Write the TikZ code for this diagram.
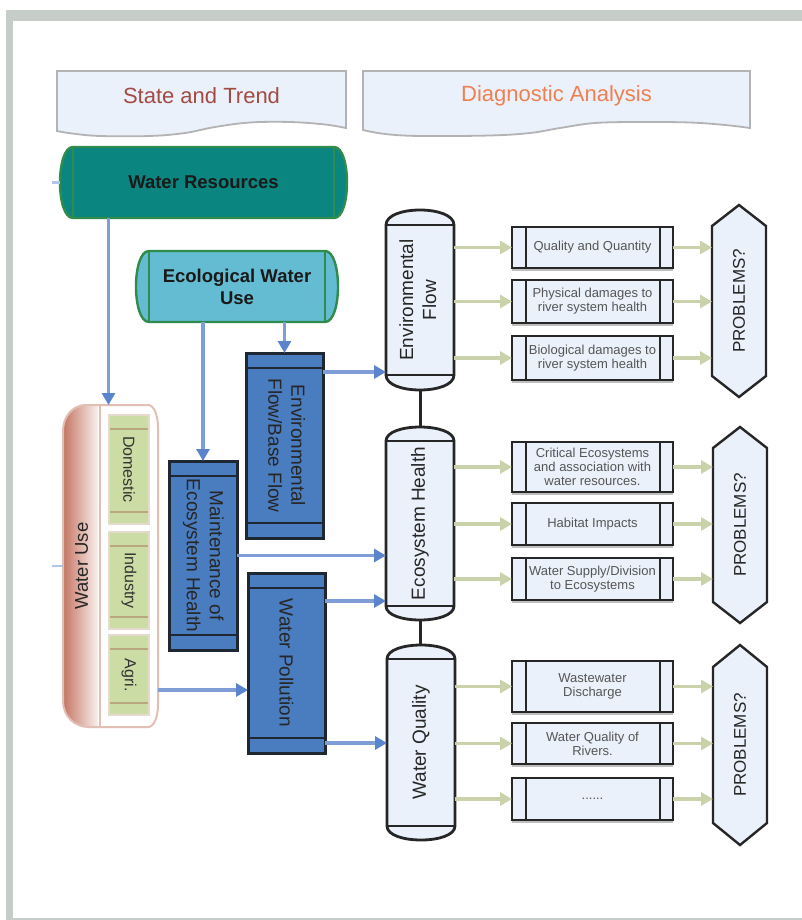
\documentclass[tikz,border=0pt]{standalone}
\usepackage{fontspec}
\setmainfont{Liberation Sans}
\usepackage{graphicx}
\usetikzlibrary{arrows.meta,calc,shadows}
\pgfdeclarelayer{bg}
\pgfsetlayers{bg,main}
\definecolor{frameg}{HTML}{C6CDC8}
\definecolor{panel}{HTML}{EAF1FA}
\definecolor{hdrline}{HTML}{B3B3B5}
\definecolor{hdrA}{HTML}{A34B42}
\definecolor{hdrB}{HTML}{EE8052}
\definecolor{wrteal}{HTML}{0A857F}
\definecolor{cangreen}{HTML}{2F8C4C}
\definecolor{ecoblue}{HTML}{64BCD3}
\definecolor{boxblue}{HTML}{4A7CC0}
\definecolor{boxline}{HTML}{1F2733}
\definecolor{arrblue}{HTML}{7F9ED8}
\definecolor{headblue}{HTML}{5A84CC}
\definecolor{arrgreen}{HTML}{C9D2AA}
\definecolor{darkline}{HTML}{262626}
\definecolor{midtext}{HTML}{555555}
\definecolor{wuline}{HTML}{E2BFB5}
\definecolor{wudark}{HTML}{C47563}
\definecolor{wulight}{HTML}{FAF0EE}
\definecolor{subgreen}{HTML}{CBDCA4}
\definecolor{subline}{HTML}{E6DACE}
\definecolor{subtan}{HTML}{B9A87F}
% horizontal can: node, bulge
\newcommand\hcan[3][]{%
 \path[#1] ($(#2.north west)+(#3,0)$) -- ($(#2.north east)+(-#3,0)$)
  .. controls ($(#2.north east)+(#3/3,0)$) and ($(#2.south east)+(#3/3,0)$) .. ($(#2.south east)+(-#3,0)$)
  -- ($(#2.south west)+(#3,0)$)
  .. controls ($(#2.south west)+(-#3/3,0)$) and ($(#2.north west)+(-#3/3,0)$) .. cycle;
 \path[#1,fill=none] ($(#2.north west)+(#3,0)$) -- ($(#2.south west)+(#3,0)$)
  ($(#2.north east)+(-#3,0)$) -- ($(#2.south east)+(-#3,0)$);}
% vertical can: node, bulge
\newcommand\vcan[3][]{%
 \path[#1] ($(#2.north west)+(0,#3)$) .. controls ($(#2.north west)+(0,-#3/3)$) and ($(#2.north east)+(0,-#3/3)$) .. ($(#2.north east)+(0,#3)$)
  -- ($(#2.south east)+(0,-#3)$) .. controls ($(#2.south east)+(0,#3/3)$) and ($(#2.south west)+(0,#3/3)$) .. ($(#2.south west)+(0,-#3)$) -- cycle;
 \path[#1,fill=none] ($(#2.north west)+(0,#3)$) -- ($(#2.north east)+(0,#3)$)
  ($(#2.south west)+(0,-#3)$) -- ($(#2.south east)+(0,-#3)$);}
% elongated hexagon: node, corner depth
\newcommand\hexa[3][]{%
 \path[#1] (#2.north) -- ($(#2.north east)+(0,#3)$) -- ($(#2.south east)+(0,-#3)$) -- (#2.south)
  -- ($(#2.south west)+(0,-#3)$) -- ($(#2.north west)+(0,#3)$) -- cycle;}
% vertical bars in a box
\newcommand\vbars[1]{%
 \draw[darkline,line width=2.4pt] ($(#1.north west)+(14,0)$) -- ($(#1.south west)+(14,0)$)
  ($(#1.north east)+(-13,0)$) -- ($(#1.south east)+(-13,0)$);}
% horizontal bars in a blue box
\newcommand\hbars[1]{%
 \draw[boxline,line width=2.4pt] ($(#1.north west)+(0,15)$) -- ($(#1.north east)+(0,15)$)
  ($(#1.south west)+(0,-15)$) -- ($(#1.south east)+(0,-15)$);}
% tan lines in a green sub-box
\newcommand\tbars[1]{%
 \draw[subtan,line width=1.8pt] ($(#1.north west)+(1,14)$) -- ($(#1.north east)+(-1,14)$)
  ($(#1.south west)+(1,-12)$) -- ($(#1.south east)+(-1,-12)$);}
\begin{document}
\begin{tikzpicture}[x=1pt,y=-1pt,
  every node/.style={inner sep=0pt,outer sep=0pt},
  hdrtxt/.style={font=\fontsize{22}{26}\selectfont},
  cantxt/.style={font=\fontsize{18.5}{22}\selectfont\bfseries,text=black!90,align=center},
  bluebox/.style={draw=boxline,line width=3pt,fill=boxblue,text=black!85,
     font=\fontsize{19}{23}\selectfont,
     drop shadow={shadow xshift=-1.5pt,shadow yshift=-2pt,fill=black!40,opacity=1}},
  vtxt/.style={font=\fontsize{19}{23}\selectfont,text=black!85},
  midbox/.style={draw=darkline,line width=2.8pt,fill=panel,minimum width=161pt,
     text=midtext,font=\fontsize{13}{14}\selectfont,align=center,
     drop shadow={shadow xshift=0pt,shadow yshift=-3pt,fill=black!25,opacity=1}},
  subbox/.style={draw=subline,line width=1.6pt,fill=subgreen,minimum width=40pt,
     font=\fontsize{16}{19}\selectfont,text=black!80},
  canfill/.style={draw=darkline,line width=2.8pt,fill=panel},
  barrow/.style={draw=arrblue,line width=3.4pt,-{Triangle[length=12pt,width=13pt,color=headblue]}},
  garrow/.style={draw=arrgreen,line width=3.4pt,-{Triangle[length=12pt,width=13pt]}},
  link/.style={draw=darkline,line width=3pt}]
\useasboundingbox (0,0) rectangle (802,920);

% ---------- nodes ----------
\node[hdrtxt,text=hdrA] (hA) at (201.5,96) {State and Trend};
\node[hdrtxt,text=hdrB] (hB) at (556.5,96) {Diagnostic Analysis};

\node[cantxt,minimum width=287pt,minimum height=71pt] (wr) at (203.5,182.5) {Water Resources};
\node[cantxt,minimum width=202pt,minimum height=71pt] (ewu) at (237,286.5) {Ecological Water\\Use};

\node[minimum width=95pt,minimum height=322pt] (wu) at (110.5,566) {};
\node[font=\fontsize{18.5}{22}\selectfont,text=black!85] (wutxt) at (81.5,566) {\rotatebox{90}{Water Use}};
\node[subbox,minimum height=109pt] (dom) at (129,469.5) {\rotatebox{-90}{Domestic}};
\node[subbox,minimum height=97pt] (ind) at (129,580.5) {\rotatebox{-90}{Industry}};
\node[subbox,minimum height=80pt] (agr) at (129,675) {\rotatebox{-90}{Agri.}};

\node[bluebox,minimum width=77pt,minimum height=185pt] (efb) at (284.5,445.5)
  {\rotatebox{-90}{\begin{tabular}{@{}c@{}}Environmental\\Flow/Base Flow\end{tabular}}};
\node[bluebox,minimum width=68pt,minimum height=189pt] (mt) at (203,555.5)
  {\rotatebox{-90}{\begin{tabular}{@{}c@{}}Maintenance of\\Ecosystem Health\end{tabular}}};
\node[bluebox,minimum width=77pt,minimum height=180pt] (wp) at (286.5,663)
  {\rotatebox{-90}{Water Pollution}};

\node[vtxt,minimum width=68pt,minimum height=180pt] (ef) at (420,300)
  {\rotatebox{90}{\begin{tabular}{@{}c@{}}Environmental\\Flow\end{tabular}}};
\node[vtxt,minimum width=68pt,minimum height=193pt] (eh) at (420,523.5)
  {\rotatebox{90}{Ecosystem Health}};
\node[vtxt,minimum width=68pt,minimum height=195pt] (wq) at (421,742.5)
  {\rotatebox{90}{Water Quality}};

\node[midbox,minimum height=41pt] (q1) at (592.5,247.5) {Quality and Quantity};
\node[midbox,minimum height=43pt] (q2) at (592.5,301.5) {Physical damages to\\river system health};
\node[midbox,minimum height=44pt] (q3) at (592.5,358) {Biological damages to\\river system health};
\node[midbox,minimum height=50pt] (c1) at (592.5,467) {Critical Ecosystems\\and association with\\water resources.};
\node[midbox,minimum height=42pt] (c2) at (592.5,524) {Habitat Impacts};
\node[midbox,minimum height=42pt] (c3) at (592.5,579) {Water Supply/Division\\to Ecosystems};
\node[midbox,minimum height=51pt] (w1) at (592.5,686.5) {Wastewater\\Discharge};
\node[midbox,minimum height=41pt] (w2) at (592.5,743.5) {Water Quality of\\Rivers.};
\node[midbox,minimum height=42pt] (w3) at (592.5,799) {......};

\node[font=\fontsize{17}{20}\selectfont,text=black!85,minimum width=54pt,minimum height=192pt] (p1) at (739,301) {\rotatebox{90}{PROBLEMS?}};
\node[font=\fontsize{17}{20}\selectfont,text=black!85,minimum width=54pt,minimum height=196pt] (p2) at (740,525) {\rotatebox{90}{PROBLEMS?}};
\node[font=\fontsize{17}{20}\selectfont,text=black!85,minimum width=54pt,minimum height=200pt] (p3) at (740,745) {\rotatebox{90}{PROBLEMS?}};

\coordinate (s1) at (52,182.5);
\coordinate (s2) at (52,566);

% ---------- background shapes ----------
\begin{pgfonlayer}{bg}
\fill[white] (0,0) rectangle (802,920);
\fill[frameg] (6,10) rectangle (802,21);
\fill[frameg] (6,10) rectangle (12.5,920);
\fill[frameg] (6,917.5) rectangle (802,920);

\draw[hdrline,line width=1.8pt,fill=panel] (57,71) -- (346,71) -- (346,128)
  -- plot[smooth,tension=0.6] coordinates {(346,128) (325,124.5) (290,122) (250,122.5) (215,127) (185,133) (150,136) (100,136) (72,133.5) (57,131)} -- cycle;
\draw[hdrline,line width=1.8pt,fill=panel] (363,71) -- (750,71) -- (750,128)
  -- plot[smooth,tension=0.6] coordinates {(750,128) (725,125) (690,122.5) (640,122) (595,123) (560,128) (530,133) (490,135.5) (420,136) (385,134) (363,130)} -- cycle;

\hcan[draw=cangreen,line width=2.4pt,fill=wrteal]{wr}{13}
\hcan[draw=cangreen,line width=2.4pt,fill=ecoblue]{ewu}{13}

\vcan[canfill]{ef}{15}
\vcan[canfill]{eh}{14}
\vcan[canfill]{wq}{14}

\hexa[canfill,line width=2.4pt]{p1}{21}
\hexa[canfill,line width=2.4pt]{p2}{21}
\hexa[canfill,line width=2.4pt]{p3}{22}

% Water Use container
\def\wupath{(86,405) -- (148,405) .. controls (154,405) and (158,415) .. (158,428) -- (158,704)
  .. controls (158,717) and (154,727) .. (148,727) -- (89,727) .. controls (74,727) and (63,716) .. (63,701)
  -- (63,431) .. controls (63,416) and (73,405) .. (86,405) -- cycle}
\fill[white] \wupath;
\begin{scope}
\clip \wupath;
\shade[left color=wudark,right color=wulight] (63,405) rectangle (98,727);
\end{scope}
\draw[wuline,line width=2pt] (100,406) -- (100,726);
\draw[wuline,line width=2pt] \wupath;
\end{pgfonlayer}

% ---------- inner bars ----------
\hbars{efb}\hbars{mt}\hbars{wp}
\tbars{dom}\tbars{ind}\tbars{agr}
\vbars{q1}\vbars{q2}\vbars{q3}
\vbars{c1}\vbars{c2}\vbars{c3}
\vbars{w1}\vbars{w2}\vbars{w3}

% ---------- connectors ----------
\draw[arrblue!60,line width=2.4pt] (s1) -- (wr.west);
\draw[arrblue!60,line width=2.4pt] (s2) -- (wu.west);

\draw[barrow] (wr.south -| 108.5,0) -- (wu.north -| 108.5,0);
\draw[barrow] (ewu.south -| mt.north) -- (mt.north);
\draw[barrow] (ewu.south -| efb.north) -- (efb.north);
\draw[barrow] (efb.east |- 0,372) -- (ef.west |- 0,372);
\draw[barrow] (mt.east) -- (mt.east -| eh.west);
\draw[barrow] (wp.east |- 0,601) -- (eh.west |- 0,601);
\draw[barrow] (wp.east |- 0,743) -- (wq.west |- 0,743);
\draw[barrow] (wu.east |- 0,690) -- (wp.west |- 0,690);

\draw[link] (ef.south) -- (eh.north);
\draw[link] (eh.south) -- (eh.south |- wq.north);

\foreach \b/\c/\p in {q1/ef/p1,q2/ef/p1,q3/ef/p1,c1/eh/p2,c2/eh/p2,c3/eh/p2,w1/wq/p3,w2/wq/p3,w3/wq/p3}{
  \draw[garrow] (\b.west -| \c.east) -- (\b.west);
  \draw[garrow] (\b.east) -- (\b.east -| \p.west);
}
\end{tikzpicture}
\end{document}
